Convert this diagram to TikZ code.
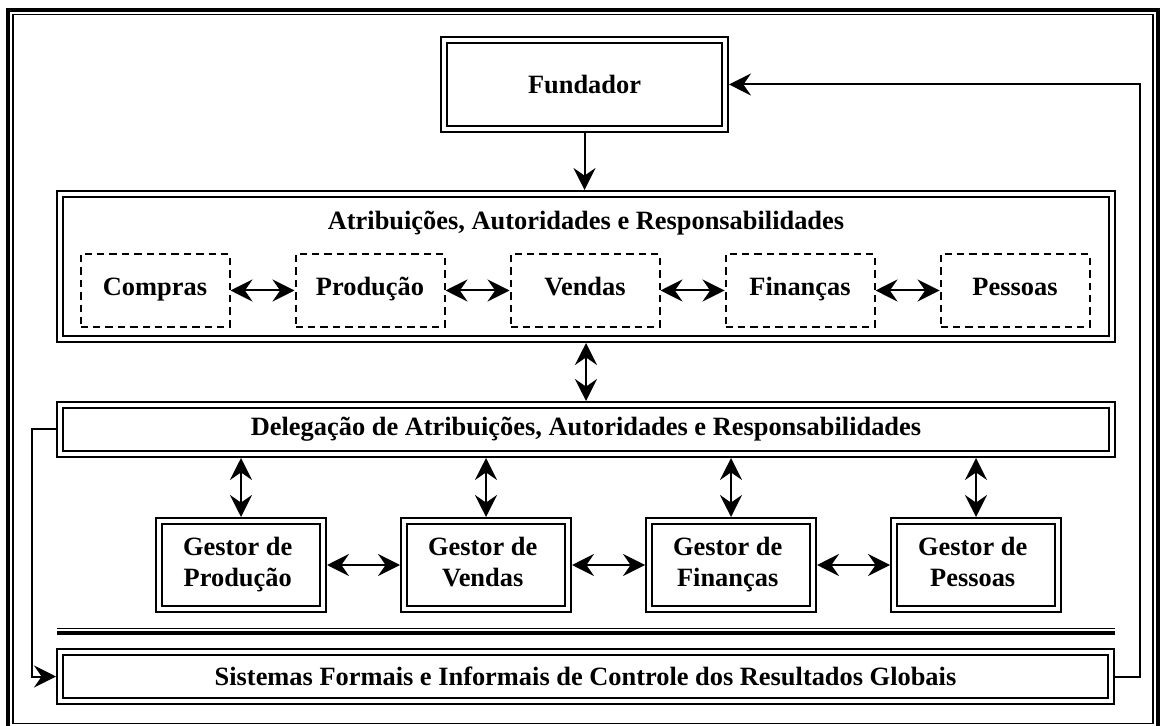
\documentclass[tikz,border=0pt]{standalone}
\usepackage{fontspec}
\setmainfont{Liberation Serif}
\usetikzlibrary{matrix}
\usetikzlibrary{arrows.meta}
\newcommand{\gestor}[1]{\begin{tabular}{@{}c@{}}Gestor de\\#1\end{tabular}}

\begin{document}
\begin{tikzpicture}[->,>={Stealth[length=11pt,width=11pt,inset=3.8pt]},line width=1pt,x=0.5pt,y=-0.5pt,
	font=\bfseries\fontsize{13.2}{15.5}\selectfont,
	dblbox/.style={draw,double,line width=1.1pt,double distance=2pt,outer sep=2.1pt,align=center},
	dashbox/.style={draw,line width=1pt,dash pattern=on 3.7pt off 2.5pt,minimum width=74.5pt,minimum height=36.5pt,text height=9pt,text depth=4pt}]
	\useasboundingbox (0,0) rectangle (1160,726);
	\draw[-,line width=2pt] (8,10) rectangle (1157.5,729); % outer frame
	\draw[-,line width=0.7pt] (13,14.5) rectangle (1153,723.5);

	\node[dblbox,minimum width=140.3pt,minimum height=44.3pt] (fund) at (584.5,84.5) {Fundador};
	\node[dblbox,minimum width=525.8pt,minimum height=72.3pt] (atrib) at (586,266.5) {};
	\node (atribtit) at (586,223) {Atribuições, Autoridades e Responsabilidades};
	\matrix[matrix of nodes,nodes={dashbox,anchor=center},column sep=32pt,ampersand replacement=\&] (areas) at (585,290.5)
	{
		|(comp)| Compras \& |(prod)| Produção \& |(vend)| Vendas \& |(fin)| Finanças \& |(pes)| Pessoas \\
	};
	\node[dblbox,minimum width=525.8pt,minimum height=24.3pt] (deleg) at (586,429.5) {Delegação de Atribuições, Autoridades e Responsabilidades};
	\matrix[matrix of nodes,nodes={dblbox,anchor=center,minimum width=81.8pt,minimum height=43.8pt},column sep=36.5pt,ampersand replacement=\&] (gestores) at (608.5,565)
	{
		|(gprod)| \gestor{Produção} \& |(gvend)| \gestor{Vendas} \& |(gfin)| \gestor{Finanças} \& |(gpes)| \gestor{Pessoas} \\
	};
	\node[dblbox,minimum width=525.3pt,minimum height=24.3pt] (sist) at (585.5,676.5) {Sistemas Formais e Informais de Controle dos Resultados Globais};

	\draw[-,line width=0.6pt] (57,628.5) -- (1115,628.5); % separator
	\draw[-,line width=2pt] (57,633) -- (1115,633);

	\draw (fund.south) -- (fund.south |- atrib.north);
	\draw[<->] (comp) -- (prod);
	\draw[<->] (prod) -- (vend);
	\draw[<->] (vend) -- (fin);
	\draw[<->] (fin) -- (pes);
	\draw[<->] (atrib.south) -- (atrib.south |- deleg.north);
	\draw[<->] (gprod.north |- deleg.south) -- (gprod.north);
	\draw[<->] (gvend.north |- deleg.south) -- (gvend.north);
	\draw[<->] (gfin.north |- deleg.south) -- (gfin.north);
	\draw[<->] (gpes.north |- deleg.south) -- (gpes.north);
	\draw[<->] (gprod) -- (gvend);
	\draw[<->] (gvend) -- (gfin);
	\draw[<->] (gfin) -- (gpes);

	\coordinate (lft) at (32,0);
	\coordinate (rgt) at (1140,0);
	\draw (deleg.west) -- (deleg.west -| lft) |- (sist.west); % feedback left
	\draw (sist.east) -| (rgt |- fund.east) -- (fund.east);
\end{tikzpicture}
\end{document}
